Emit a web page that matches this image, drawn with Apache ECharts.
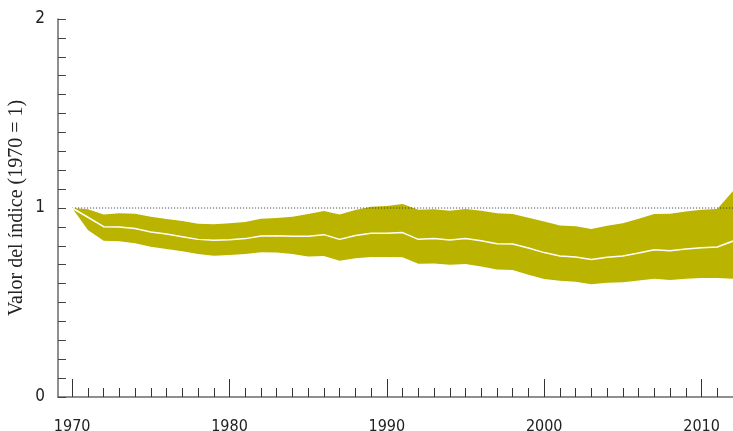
<!DOCTYPE html>
<html><head><meta charset="utf-8">
<script src="https://cdn.jsdelivr.net/npm/echarts@6/dist/echarts.min.js"></script>
<style>html,body{margin:0;padding:0;background:#fff}#c{width:733px;height:431px}</style>
</head><body><div id="c"></div>
<script>
const years = [1970,1971,1972,1973,1974,1975,1976,1977,1978,1979,1980,1981,1982,1983,1984,1985,1986,1987,1988,1989,1990,1991,1992,1993,1994,1995,1996,1997,1998,1999,2000,2001,2002,2003,2004,2005,2006,2007,2008,2009,2010,2011,2012];
const indexValues = [1.0,0.951,0.901,0.899,0.891,0.873,0.862,0.848,0.834,0.829,0.832,0.838,0.852,0.853,0.850,0.850,0.859,0.834,0.855,0.866,0.866,0.870,0.834,0.838,0.831,0.838,0.827,0.811,0.810,0.788,0.764,0.746,0.741,0.727,0.739,0.746,0.762,0.779,0.774,0.783,0.790,0.794,0.825];
const upperValues = [1.0,0.993,0.966,0.972,0.970,0.954,0.942,0.931,0.917,0.914,0.919,0.926,0.943,0.947,0.954,0.968,0.984,0.965,0.989,1.007,1.010,1.021,0.991,0.993,0.986,0.995,0.986,0.972,0.968,0.949,0.928,0.908,0.903,0.889,0.906,0.919,0.943,0.968,0.970,0.981,0.991,0.995,1.090];
const lowerValues = [1.0,0.884,0.827,0.824,0.813,0.795,0.783,0.771,0.757,0.748,0.751,0.757,0.766,0.764,0.757,0.744,0.746,0.721,0.734,0.741,0.741,0.739,0.705,0.707,0.700,0.704,0.691,0.675,0.672,0.647,0.624,0.615,0.610,0.596,0.605,0.607,0.617,0.626,0.619,0.626,0.630,0.630,0.626];
const decadeTicks = [1970,1980,1990,2000,2010];
const yLabels = [0,1,2];
const baseline = 1;

const tickFont = "'Liberation Sans Narrow','DejaVu Sans Condensed','Arial Narrow',sans-serif";
const axisCol = '#6b6b6b';
const band = '#bab300';

const chart = echarts.init(document.getElementById('c'), null, {renderer:'canvas'});
const xCommon = {type:'value', min:1969.1, max:2012, splitLine:{show:false}, position:'bottom'};
const bandData = years.map((y,i)=>[y,lowerValues[i],upperValues[i]]);
chart.setOption({
  animation:false,
  grid:{left:58, right:0, top:19, bottom:34, containLabel:false, outerBoundsMode:'none'},
  xAxis:[
    Object.assign({}, xCommon, {
      axisLine:{show:true, lineStyle:{color:axisCol, width:1.5}},
      axisTick:{show:true, inside:true, length:18, customValues:decadeTicks, lineStyle:{color:'#333', width:1}},
      axisLabel:{show:true, customValues:decadeTicks, margin:22, fontFamily:tickFont, fontSize:16, color:'#222', formatter:v=>String(v)}
    }),
    Object.assign({}, xCommon, {
      axisLine:{show:false},
      axisTick:{show:true, inside:true, length:9, customValues:years, lineStyle:{color:'#333', width:1}},
      axisLabel:{show:false}
    })
  ],
  yAxis:{type:'value', min:0, max:2, interval:0.1, splitLine:{show:false},
    axisLine:{show:true, lineStyle:{color:axisCol, width:1.5}},
    axisTick:{show:true, inside:true, length:8, lineStyle:{color:'#444', width:1}},
    axisLabel:{customValues:yLabels, margin:13, fontFamily:tickFont, fontSize:17, color:'#222', formatter:v=>String(Math.round(v))},
    name:'Valor del índice (1970 = 1)', nameLocation:'middle', nameGap:31, nameRotate:90, nameMoveOverlap:false,
    nameTextStyle:{fontFamily:"'Liberation Serif','Times New Roman',serif", fontSize:20, color:'#222'}
  },
  series:[
    {type:'custom', data:bandData, encode:{x:0, y:[1,2]}, silent:true, z:2, clip:true,
      renderItem:function(params, api){
        if (params.dataIndex !== 0) return null;
        const top = bandData.map(d=>api.coord([d[0], d[2]]));
        const bot = bandData.map(d=>api.coord([d[0], d[1]])).reverse();
        return {type:'polygon', shape:{points:top.concat(bot)}, style:{fill:band, stroke:null}};
      }},
    {type:'line', data:[[years[0],baseline],[years[years.length-1],baseline]], symbol:'none', lineStyle:{color:'#333', width:1, type:[1,2]}, z:3},
    {type:'line', data:years.map((y,i)=>[y,indexValues[i]]), symbol:'none', lineStyle:{color:'#ffffff', width:1.5}, z:4}
  ]
});
</script></body></html>
